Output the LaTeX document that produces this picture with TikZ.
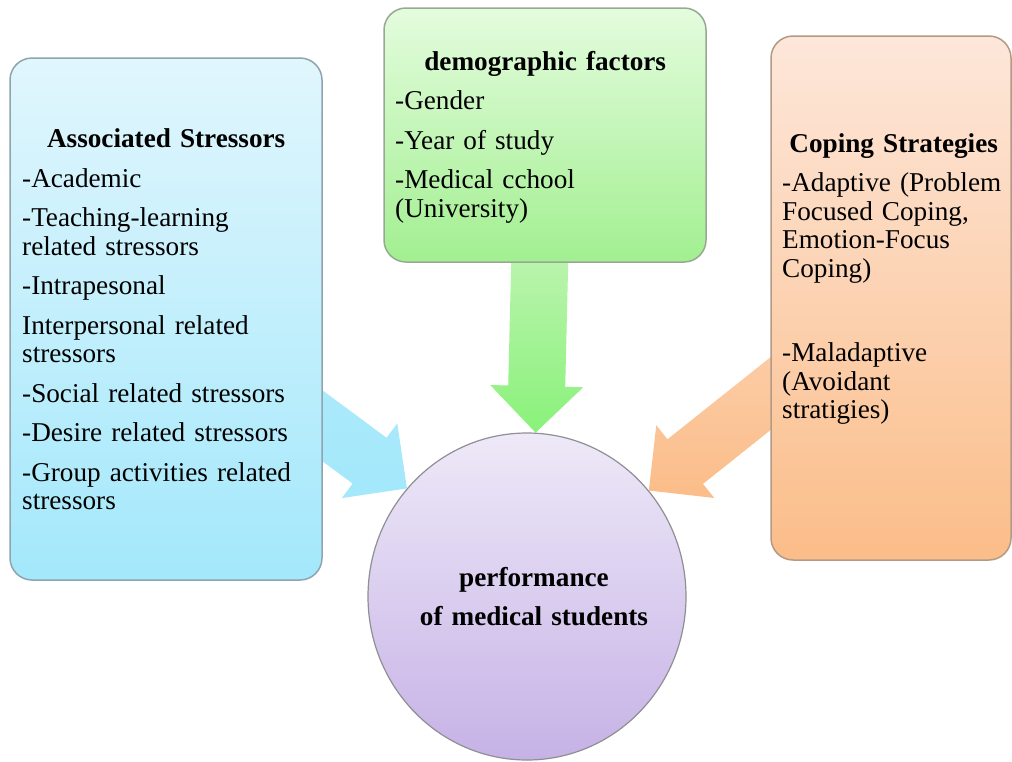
\documentclass[tikz,border=0pt]{standalone}
\usepackage{fontspec}
\setmainfont{Liberation Serif}
\usetikzlibrary{calc,shapes.geometric,backgrounds}

\definecolor{stressTop}{HTML}{E1F6FD}
\definecolor{stressBot}{HTML}{A3E8FB}
\definecolor{stressEdge}{HTML}{8EA4AE}
\definecolor{demoTop}{HTML}{E4FCDE}
\definecolor{demoBot}{HTML}{A2EF90}
\definecolor{demoEdge}{HTML}{97A993}
\definecolor{copeTop}{HTML}{FDE7DA}
\definecolor{copeBot}{HTML}{FBBD89}
\definecolor{copeEdge}{HTML}{B39A84}
\definecolor{perfTop}{HTML}{EEE9F8}
\definecolor{perfBot}{HTML}{C6B2E6}
\definecolor{perfEdge}{HTML}{8F8F94}

\newcommand{\paneltitle}[1]{\hfill\textbf{#1}\hfill\null}
\newcommand{\blockarrow}[3]{%
  \coordinate (ah) at ($(#3)!46.5pt!(#2)$);
  \path[#1] ($(#2)!28.5pt!90:(#3)$) -- ($(ah)!28.5pt!90:(#3)$) -- ($(ah)!46.5pt!90:(#3)$) -- (#3)
    -- ($(ah)!46.5pt!-90:(#3)$) -- ($(ah)!28.5pt!-90:(#3)$) -- ($(#2)!28.5pt!-90:(#3)$) -- cycle;}

\begin{document}
\begin{tikzpicture}[x=1pt,y=-1pt,
        every node/.style={font=\fontsize{27.2}{28.5}\selectfont},
        panel/.style={draw, line width=1.5pt, rounded corners=22pt, inner sep=0pt},
        itemlist/.style={anchor=base west, inner sep=0pt, align=left}]
            \useasboundingbox (0,0) rectangle (1012,761);

            \node[panel, draw=stressEdge, top color=stressTop, bottom color=stressBot,
                minimum width=312pt, minimum height=522pt] (stressors) at (166,319) {};
            \node[itemlist, text width=288pt] (stressorlist) at (22,147.5) {\paneltitle{Associated Stressors}\\[11pt]
                -Academic\\[11pt]
                -Teaching-learning\\
                related stressors\\[11pt]
                -Intrapesonal\\[11pt]
                Interpersonal related\\
                stressors\\[11pt]
                -Social related stressors\\[11pt]
                -Desire related stressors\\[11pt]
                -Group activities related\\
                stressors};

            \node[panel, draw=demoEdge, top color=demoTop, bottom color=demoBot,
                minimum width=322pt, minimum height=254pt] (demographics) at (545,135) {};
            \node[itemlist, text width=300pt] (demolist) at (395,70) {\paneltitle{demographic factors}\\[11pt]
                -Gender\\[11pt]
                -Year of study\\[11pt]
                -Medical cchool\\
                (University)};

            \node[panel, draw=copeEdge, top color=copeTop, bottom color=copeBot,
                minimum width=240pt, minimum height=524pt] (coping) at (891,298) {};
            \node[itemlist, text width=223pt] (copinglist) at (782,152) {\paneltitle{Coping Strategies}\\[11pt]
                -Adaptive (Problem\\
                Focused Coping,\\
                Emotion-Focus\\
                Coping)\\[56pt]
                -Maladaptive\\
                (Avoidant\\
                stratigies)};

            \node[ellipse, draw=perfEdge, line width=1.2pt, top color=perfTop, bottom color=perfBot,
                minimum width=318pt, minimum height=327pt, inner sep=0pt] (performance) at (527,596.5) {};
            \node[anchor=base, inner sep=0pt, align=center, text width=300pt,
                font=\fontsize{27.2}{28.5}\selectfont\bfseries] (perftext) at (534,586) {performance\\[10.5pt]
                of medical students};

            \coordinate (stressfrom) at (200,335);
            \coordinate (demofrom) at (540,250);
            \coordinate (copefrom) at (819,355);
            \begin{scope}[on background layer]
                \fill[white] (0,0) rectangle (1012,761);
                \blockarrow{top color=stressTop!20!stressBot, bottom color=stressBot}{stressfrom}{performance.138}
                \blockarrow{top color=demoTop!40!demoBot, bottom color=demoBot!85!green}{demofrom}{performance.87}
                \blockarrow{top color=copeTop!40!copeBot, bottom color=copeBot}{copefrom}{performance.41}
            \end{scope}
        \end{tikzpicture}
\end{document}
